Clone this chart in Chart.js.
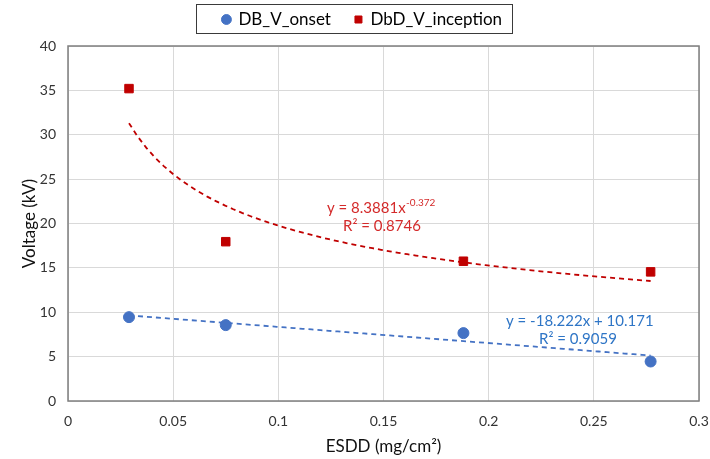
<!DOCTYPE html>
<html>
<head>
<meta charset="utf-8">
<script src="https://cdn.jsdelivr.net/npm/chart.js@4.4.1/dist/chart.umd.min.js"></script>
<style>
  html, body { margin: 0; padding: 0; background: #fff; }
  #wrap { width: 710px; height: 459px; position: relative; }
</style>
</head>
<body>
<div id="wrap"><canvas id="c" width="710" height="459"></canvas></div>
<script>
// ---- data ----
const esdd = [0.029, 0.075, 0.188, 0.277];
const dbVOnset = [9.45, 8.55, 7.65, 4.45];
const dbdVInception = [35.2, 17.95, 15.75, 14.55];
const xTicks = [0, 0.05, 0.1, 0.15, 0.2, 0.25, 0.3];
const yTicks = [0, 5, 10, 15, 20, 25, 30, 35, 40];
// trendline coefficients as printed in the chart
const linFit = { slope: -18.222, intercept: 10.171, r2: '0.9059' };
const powFit = { coef: 8.3881, exp: -0.372, r2: '0.8746' };

const FONT = 'Lato, "Open Sans", "Liberation Sans", sans-serif';
const BLUE = '#4472C4';
const RED = '#C00000';

// points along the fitted curves between first and last ESDD value
const nSteps = 60;
const xMin = esdd[0], xMax = esdd[esdd.length - 1];
const linLine = [], powLine = [];
for (let i = 0; i <= nSteps; i++) {
  const x = xMin + (xMax - xMin) * i / nSteps;
  linLine.push({ x, y: linFit.slope * x + linFit.intercept });
  powLine.push({ x, y: powFit.coef * Math.pow(x, powFit.exp) });
}

const legendBox = {
  id: 'legendBox',
  afterDraw(chart) {
    const ctx = chart.ctx;
    ctx.save();
    ctx.strokeStyle = '#3a3a3a';
    ctx.lineWidth = 1;
    ctx.strokeRect(196.5, 4.5, 316, 29);
    ctx.restore();
  }
};

const plotBorder = {
  id: 'plotBorder',
  afterDatasetsDraw(chart) {
    const a = chart.chartArea, ctx = chart.ctx;
    ctx.save();
    ctx.strokeStyle = '#7f7f7f';
    ctx.lineWidth = 1.5;
    ctx.strokeRect(a.left, a.top, a.right - a.left, a.bottom - a.top);
    ctx.restore();
  }
};

const equations = {
  id: 'equations',
  afterDraw(chart) {
    const ctx = chart.ctx;
    ctx.save();
    ctx.textBaseline = 'middle';
    ctx.textAlign = 'left';
    // power fit
    ctx.fillStyle = '#D42A2A';
    ctx.font = '15px ' + FONT;
    let x0 = 327, y0 = 208;
    const main = 'y = ' + powFit.coef + 'x';
    ctx.fillText(main, x0, y0);
    const w = ctx.measureText(main).width;
    ctx.font = '10px ' + FONT;
    ctx.fillText(String(powFit.exp), x0 + w + 0.5, y0 - 5);
    ctx.font = '15px ' + FONT;
    ctx.fillText('R² = ' + powFit.r2, 343, 226);
    // linear fit
    ctx.fillStyle = '#2E75C6';
    ctx.fillText('y = ' + linFit.slope + 'x + ' + linFit.intercept, 506, 321);
    ctx.fillText('R² = ' + linFit.r2, 539, 339);
    ctx.restore();
  }
};

new Chart(document.getElementById('c'), {
  type: 'scatter',
  data: {
    datasets: [
      {
        label: 'DB_V_onset',
        data: esdd.map((x, i) => ({ x, y: dbVOnset[i] })),
        backgroundColor: BLUE, borderColor: BLUE,
        pointStyle: 'circle', pointRadius: 5.5, pointHoverRadius: 5.5, order: 1
      },
      {
        label: 'DbD_V_inception',
        data: esdd.map((x, i) => ({ x, y: dbdVInception[i] })),
        backgroundColor: RED, borderColor: RED,
        pointStyle: 'rect', pointRadius: 6, pointHoverRadius: 6, order: 1
      },
      {
        label: 'linfit', data: linLine, showLine: true, pointRadius: 0,
        borderColor: BLUE, borderWidth: 1.8, borderDash: [5, 4], fill: false, order: 2
      },
      {
        label: 'powfit', data: powLine, showLine: true, pointRadius: 0,
        borderColor: RED, borderWidth: 1.8, borderDash: [5, 4], fill: false, order: 2
      }
    ]
  },
  options: {
    responsive: false,
    animation: false,
    layout: { padding: { left: 10, right: 11, top: 0, bottom: 2 } },
    plugins: {
      tooltip: { enabled: false },
      legend: {
        position: 'top',
        labels: {
          filter: (item) => item.datasetIndex < 2,
          usePointStyle: true,
          boxWidth: 7, boxHeight: 7,
          padding: 24,
          color: '#000',
          font: { family: FONT, size: 17 }
        }
      }
    },
    scales: {
      x: {
        type: 'linear', min: 0, max: 0.3,
        afterBuildTicks: (s) => { s.ticks = xTicks.map(v => ({ value: v })); },
        ticks: { color: '#333', font: { family: FONT, size: 14 }, padding: 12,
                 callback: (v) => String(v) },
        grid: { color: '#d9d9d9', lineWidth: 1, drawTicks: false },
        border: { display: false },
        title: { display: true, text: 'ESDD (mg/cm²)', color: '#111',
                 font: { family: FONT, size: 17 }, padding: { top: 4, bottom: 0 } },
        afterFit: (s) => { s.height = 56; s.paddingLeft = 0; s.paddingRight = 0; }
      },
      y: {
        type: 'linear', min: 0, max: 40,
        afterBuildTicks: (s) => { s.ticks = yTicks.map(v => ({ value: v })); },
        ticks: { color: '#333', font: { family: FONT, size: 14 }, padding: 12 },
        grid: { color: '#d9d9d9', lineWidth: 1, drawTicks: false },
        border: { display: false },
        title: { display: true, text: 'Voltage (kV)', color: '#111',
                 font: { family: FONT, size: 17 }, padding: { top: 9, bottom: 4 } },
        afterFit: (s) => { s.width = 58; s.paddingTop = 0; s.paddingBottom = 0; }
      }
    }
  },
  plugins: [{
    id: 'legendHeight',
    afterInit(chart) {
      const lg = chart.legend;
      if (lg) {
        const origFit = lg.fit.bind(lg);
        lg.fit = function () { origFit(); this.height = 46; };
        const origDraw = lg.draw.bind(lg);
        lg.draw = function () {
          const ctx = chart.ctx;
          ctx.save();
          ctx.translate(8, -13);
          origDraw();
          ctx.restore();
        };
      }
    }
  }, legendBox, plotBorder, equations]
});
</script>
</body>
</html>
